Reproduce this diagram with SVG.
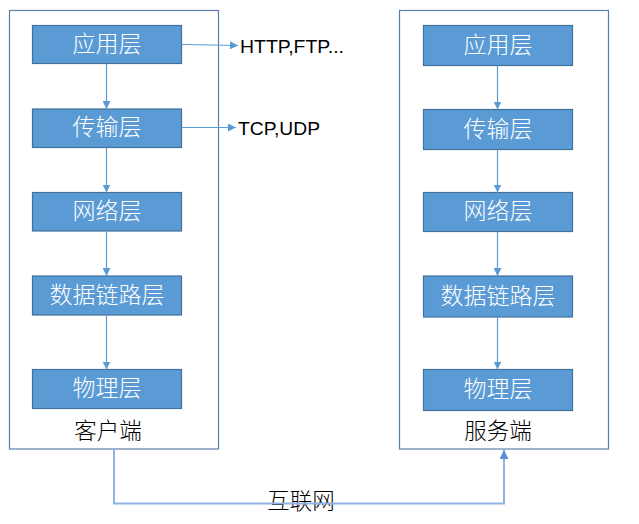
<svg xmlns="http://www.w3.org/2000/svg" width="639" height="524" viewBox="0 0 639 524">
<style>
.outer{fill:#fff;stroke:#5a7fae;stroke-width:1.2}
.layer{fill:#5b9bd5;stroke:#41719c;stroke-width:1.2}
.lt{font-family:"Noto Sans CJK SC","Liberation Sans",sans-serif;font-size:23px;font-weight:300;fill:#fff;text-anchor:middle;dominant-baseline:central}
.cap{font-family:"Noto Sans CJK SC","Liberation Sans",sans-serif;font-size:22.5px;font-weight:300;fill:#000;text-anchor:middle}
.proto{font-family:"Liberation Sans","Noto Sans",sans-serif;font-size:19px;fill:#000}
.arr{fill:none;stroke:#5b9bd5;stroke-width:1.2}
.net{fill:none;stroke:#8fb4e3;stroke-width:2}
</style>
<defs>
<marker id="ah" viewBox="0 0 10 10" refX="10" refY="5" markerWidth="8" markerHeight="8" markerUnits="userSpaceOnUse" orient="auto">
<path d="M0,0 L10,5 L0,10 z" fill="#5b9bd5"/>
</marker>
<marker id="ah2" viewBox="0 0 10 10" refX="10" refY="5" markerWidth="9" markerHeight="9" markerUnits="userSpaceOnUse" orient="auto">
<path d="M0,0 L10,5 L0,10 z" fill="#5b8fd5"/>
</marker>
</defs>
<rect width="639" height="524" fill="#fff"/>
<g id="client">
<rect class="outer" x="9.5" y="10.5" width="209" height="438.5"/>
<text class="cap" x="108" y="439">客户端</text>
</g>
<g id="server">
<rect class="outer" x="399.5" y="10.5" width="209" height="438.5"/>
<text class="cap" x="498" y="439">服务端</text>
</g>
<g id="c-app"><rect class="layer" x="32.5" y="25.5" width="149" height="38"/><text class="lt" x="107" y="41.5">应用层</text></g>
<g id="c-trans"><rect class="layer" x="32.5" y="109" width="149" height="38.5"/><text class="lt" x="107" y="125">传输层</text></g>
<g id="c-net"><rect class="layer" x="32.5" y="192.5" width="149" height="38.5"/><text class="lt" x="107" y="208.5">网络层</text></g>
<g id="c-link"><rect class="layer" x="32.5" y="276" width="149" height="39"/><text class="lt" x="107" y="292.5">数据链路层</text></g>
<g id="c-phy"><rect class="layer" x="32.5" y="369.5" width="149" height="39"/><text class="lt" x="107" y="386">物理层</text></g>
<g id="s-app"><rect class="layer" x="423.5" y="25.5" width="149" height="40"/><text class="lt" x="498" y="42.5">应用层</text></g>
<g id="s-trans"><rect class="layer" x="423.5" y="109.5" width="149" height="40"/><text class="lt" x="498" y="126.5">传输层</text></g>
<g id="s-net"><rect class="layer" x="423.5" y="192.5" width="149" height="39"/><text class="lt" x="498" y="209">网络层</text></g>
<g id="s-link"><rect class="layer" x="423.5" y="276" width="149" height="41"/><text class="lt" x="498" y="293.5">数据链路层</text></g>
<g id="s-phy"><rect class="layer" x="423.5" y="369.5" width="149" height="41"/><text class="lt" x="498" y="387">物理层</text></g>
<g id="proto-http"><text class="proto" x="240" y="52.5" textLength="104" lengthAdjust="spacingAndGlyphs">HTTP,FTP...</text></g>
<g id="proto-tcp"><text class="proto" x="238" y="134.5" textLength="82" lengthAdjust="spacingAndGlyphs">TCP,UDP</text></g>
<g id="internet-label"><text class="cap" x="301" y="509">互联网</text></g>
<g id="connectors">
<line class="arr" x1="106.5" y1="63.5" x2="106.5" y2="109" marker-end="url(#ah)"/>
<line class="arr" x1="106.5" y1="147.5" x2="106.5" y2="192.5" marker-end="url(#ah)"/>
<line class="arr" x1="106.5" y1="231" x2="106.5" y2="276" marker-end="url(#ah)"/>
<line class="arr" x1="106.5" y1="315" x2="106.5" y2="369.5" marker-end="url(#ah)"/>
<line class="arr" x1="497.5" y1="65.5" x2="497.5" y2="109.5" marker-end="url(#ah)"/>
<line class="arr" x1="497.5" y1="149.5" x2="497.5" y2="192.5" marker-end="url(#ah)"/>
<line class="arr" x1="497.5" y1="231.5" x2="497.5" y2="276" marker-end="url(#ah)"/>
<line class="arr" x1="497.5" y1="317" x2="497.5" y2="369.5" marker-end="url(#ah)"/>
<line class="arr" x1="181.5" y1="44.5" x2="238" y2="45.5" marker-end="url(#ah)"/>
<line class="arr" x1="181.5" y1="127.5" x2="236" y2="127.5" marker-end="url(#ah)"/>
<path class="net" d="M114,449 V503.5 H504 V450" marker-end="url(#ah2)"/>
</g>
</svg>
